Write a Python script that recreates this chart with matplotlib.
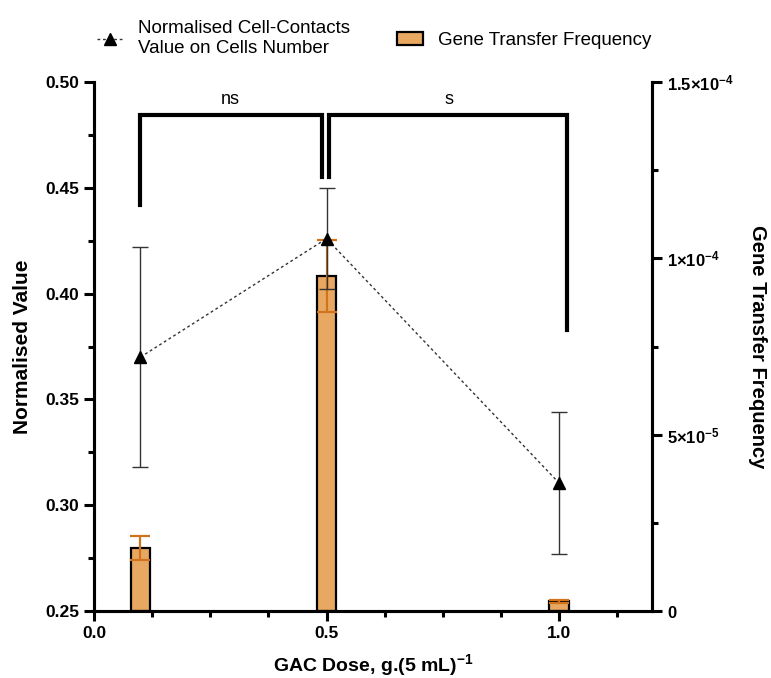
import numpy as np
import matplotlib
matplotlib.use("Agg")
import matplotlib.pyplot as plt
from matplotlib.ticker import MultipleLocator, FixedLocator

plt.rcParams['font.family'] = ['Liberation Sans', 'DejaVu Sans']
plt.rcParams['mathtext.fontset'] = 'custom'
plt.rcParams['mathtext.rm'] = 'Liberation Sans'
plt.rcParams['mathtext.bf'] = 'Liberation Sans:bold'
plt.rcParams['mathtext.it'] = 'Liberation Sans:italic'

# data
dose = [0.1, 0.5, 1.0]
contacts = [0.370, 0.426, 0.3105]
contacts_err = [0.052, 0.024, 0.0335]
gtf = [1.79e-5, 9.50e-5, 2.8e-6]
gtf_err = [0.33e-5, 1.03e-5, 0.4e-6]

right_ticks = [0, 5e-5, 1e-4, 1.5e-4]
right_labels = [r'$\mathbf{0}$', r'$\mathbf{5{\times}10^{-5}}$',
                r'$\mathbf{1{\times}10^{-4}}$', r'$\mathbf{1.5{\times}10^{-4}}$']

bar_color = '#E8A862'
err_orange = '#D0731C'

fig = plt.figure(figsize=(7.71, 6.78), dpi=100)
ax = fig.add_axes([0.1219, 0.0988, 0.7238, 0.7802])
ax2 = ax.twinx()

# bars on the right axis
bars = ax2.bar(dose, gtf, width=0.042, color=bar_color, edgecolor='black',
               linewidth=1.6, zorder=2, label='Gene Transfer Frequency')
ax2.errorbar(dose, gtf, yerr=gtf_err, fmt='none', ecolor=err_orange,
             elinewidth=1.6, capsize=7, capthick=1.6, zorder=3)
ax2.set_ylim(0, 1.5e-4)

# line on the left axis drawn above bars
ax.set_zorder(ax2.get_zorder() + 1)
ax.patch.set_visible(False)
ax.errorbar(dose, contacts, yerr=contacts_err, fmt='none', ecolor='#333333',
            elinewidth=1.0, capsize=6, capthick=1.0, zorder=3)
line, = ax.plot(dose, contacts, linestyle=(0, (2, 2)), color='#333333',
                linewidth=1.0, marker='^', markersize=8, markerfacecolor='black',
                markeredgecolor='black', zorder=4,
                label='Normalised Cell-Contacts\nValue on Cells Number')

ax.set_xlim(0, 1.2)
ax.set_ylim(0.25, 0.50)
ax.xaxis.set_major_locator(FixedLocator([0.0, 0.5, 1.0]))
ax.xaxis.set_minor_locator(MultipleLocator(0.125))
ax.yaxis.set_major_locator(MultipleLocator(0.05))
ax.yaxis.set_minor_locator(MultipleLocator(0.025))
ax.set_xticklabels(['0.0', '0.5', '1.0'])
ax.set_yticklabels(['%.2f' % v for v in ax.get_yticks()])

ax2.yaxis.set_major_locator(FixedLocator(right_ticks))
ax2.yaxis.set_minor_locator(MultipleLocator(2.5e-5))
ax2.set_yticklabels(right_labels)

for a in (ax, ax2):
    for s in a.spines.values():
        s.set_linewidth(2.2)
    a.tick_params(which='major', length=7, width=2.2, labelsize=12.5)
    a.tick_params(which='minor', length=4, width=2.2)
ax2.tick_params(labelsize=12)
ax.spines['top'].set_visible(False)
ax2.spines['top'].set_visible(False)
for lab in ax.get_xticklabels() + ax.get_yticklabels():
    lab.set_fontweight('bold')

ax.set_xlabel(r'GAC Dose, g.(5 mL)$^{\mathbf{-1}}$', fontsize=14, fontweight='bold',
              labelpad=8)
ax.set_ylabel('Normalised Value', fontsize=15, fontweight='bold', labelpad=10)
ax2.set_ylabel('Gene Transfer Frequency', fontsize=14.5, fontweight='bold',
               rotation=270, labelpad=24)

# significance brackets
ax.plot([0.1, 0.1, 0.49, 0.49], [0.442, 0.4845, 0.4845, 0.455],
        color='black', linewidth=3, solid_joinstyle='miter', clip_on=False, zorder=5)
ax.plot([0.505, 0.505, 1.017, 1.017], [0.455, 0.4845, 0.4845, 0.383],
        color='black', linewidth=3, solid_joinstyle='miter', clip_on=False, zorder=5)
ax.text(0.293, 0.4875, 'ns', ha='center', va='bottom', fontsize=13)
ax.text(0.763, 0.4875, 's', ha='center', va='bottom', fontsize=13)

fig.legend(handles=[line, bars], labels=[line.get_label(), bars.get_label()],
           loc='upper center', bbox_to_anchor=(0.485, 0.995), ncol=2, frameon=False,
           fontsize=13.5, handlelength=1.4, columnspacing=2.5, handletextpad=0.8)

fig.savefig('out.png', dpi=100)
